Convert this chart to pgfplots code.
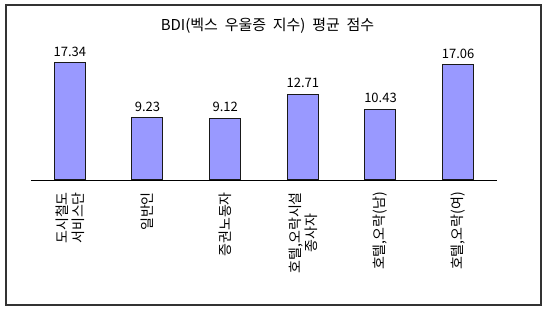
\documentclass[border=0pt]{standalone}
\usepackage{fontspec}
\setmainfont{Noto Sans CJK KR}
\newfontfamily\titlefont[WordSpace=2]{Noto Sans CJK KR}
\usepackage{pgfplots}
\pgfplotsset{compat=1.18}
\definecolor{barfill}{HTML}{9999FF}
\definecolor{framec}{HTML}{333333}
\begin{document}
\begin{tikzpicture}[x=1pt,y=1pt]
\begin{axis}[
  at={(31pt,131pt)}, anchor=south west,
  scale only axis, width=466pt, height=135pt,
  xmin=-0.5, xmax=5.5, ymin=0, ymax=20,
  axis x line*=bottom, axis y line=none,
  x axis line style={-, draw=black, line width=0.8pt},
  xtick={0,1,2,3,4,5},
  xticklabels={{도시철도\\서비스단},{일반인},{증권노동자},{호텔,오락시설\\종사자},{호텔,오락(남)},{호텔,오락(여)}},
  major tick length=0pt,
  xticklabel shift=12pt,
  xticklabel style={rotate=90, anchor=east, inner sep=0pt, align=center, font=\fontsize{14}{16}\selectfont},
  ytick=\empty,
  point meta=explicit symbolic,
  nodes near coords,
  every node near coord/.append style={font=\fontsize{13}{15}\selectfont, anchor=south, inner sep=0pt, yshift=6pt},
  clip=false,
]
\addplot[ybar, bar width=31pt, fill=barfill, draw=black!90, line width=1pt]
  coordinates {(0,17.34)[17.34] (1,9.23)[9.23] (2,9.12)[9.12] (3,12.71)[12.71] (4,10.43)[10.43] (5,17.06)[17.06]};
\end{axis}
\node[font=\titlefont\fontsize{15}{17}\selectfont] at (267.5pt,285pt) {BDI(벡스 우울증 지수) 평균 점수};
\draw[framec, line width=1.5pt] (6pt,6pt) rectangle (541pt,306pt);
\pgfresetboundingbox
\path (0,0) rectangle (550pt,311pt);
\end{tikzpicture}
\end{document}
